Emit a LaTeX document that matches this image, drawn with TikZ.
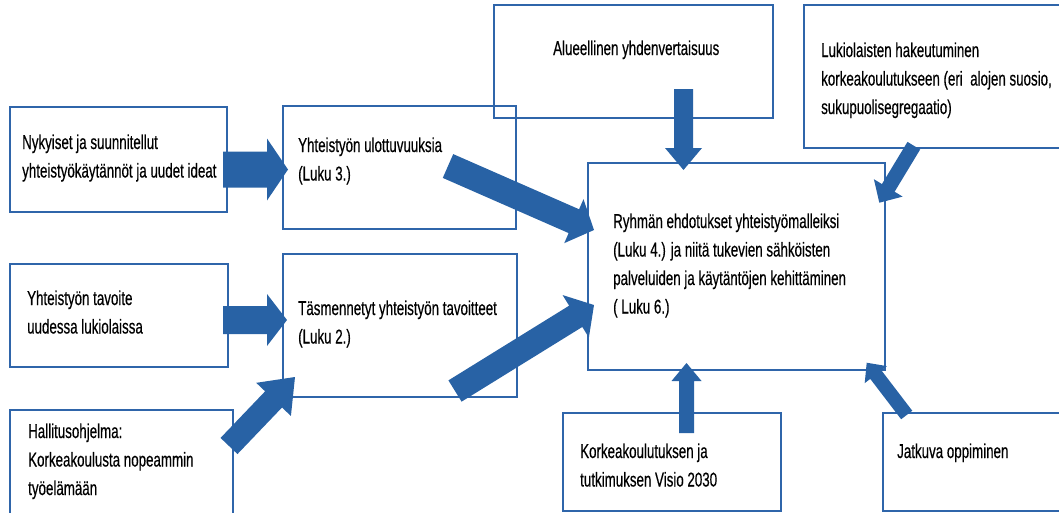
\documentclass[tikz,border=0pt]{standalone}
\usepackage{fontspec}
\setmainfont{Liberation Sans}[FakeStretch=0.667,FakeBold=0.4]
\usetikzlibrary{calc,fit}
\definecolor{boxblue}{HTML}{2F65AA}
\definecolor{arrowblue}{HTML}{2862A5}
\newcommand\blockarrow[5]{%
  \coordinate (bah) at ($(#2)!#5!(#1)$);
  \fill[arrowblue] ($(#1)!#3!90:(#2)$) -- ($(bah)!#3!90:(#2)$) -- ($(bah)!#4!90:(#2)$) -- (#2)
    -- ($(bah)!#4!-90:(#2)$) -- ($(bah)!#3!-90:(#2)$) -- ($(#1)!#3!-90:(#2)$) -- cycle;}
\newcommand\tl[1]{\begin{tabular}[t]{@{}l@{}}#1\end{tabular}}
\begin{document}
\begin{tikzpicture}[x=1pt,y=-1pt,
  box/.style={draw=boxblue,line width=1.4pt,inner sep=0pt,fit=#1},
  txt/.style={anchor=base west,inner sep=0pt,font=\fontsize{20}{28.5}\selectfont}]
\useasboundingbox (0,0) rectangle (1059,512);
\clip (0,0) rectangle (1059,512);
% boxes
\coordinate (b1a) at (10,107);  \coordinate (b1b) at (227,212);
\coordinate (b2a) at (283,106); \coordinate (b2b) at (516,229);
\coordinate (b3a) at (494,5);   \coordinate (b3b) at (773,118);
\coordinate (b4a) at (804,5);   \coordinate (b4b) at (1064,148);
\coordinate (b5a) at (588,163); \coordinate (b5b) at (885,370);
\coordinate (b6a) at (10,264);  \coordinate (b6b) at (228,367);
\coordinate (b7a) at (283,254); \coordinate (b7b) at (517,397);
\coordinate (b8a) at (10,410);  \coordinate (b8b) at (233,518);
\coordinate (b9a) at (563,413); \coordinate (b9b) at (781,511);
\coordinate (b10a) at (883,413); \coordinate (b10b) at (1064,511);
\foreach \i in {1,...,10} {\node[box={(b\i a)(b\i b)}] (box\i) {};}
% texts
\node[txt] (t1) at (22,149) {\tl{Nykyiset ja suunnitellut\\yhteistyökäytännöt ja uudet ideat}};
\node[txt] (t2) at (298,152) {\tl{Yhteistyön ulottuvuuksia\\(Luku 3.)}};
\node[txt] (t3) at (553,55) {Alueellinen yhdenvertaisuus};
\node[txt] (t4) at (821,57) {\tl{Lukiolaisten hakeutuminen\\korkeakoulutukseen (eri~ alojen suosio,\\sukupuolisegregaatio)}};
\node[txt] (t5) at (613,228) {\tl{Ryhmän ehdotukset yhteistyömalleiksi\\(Luku 4.) ja niitä tukevien sähköisten\\palveluiden ja käytäntöjen kehittäminen\\( Luku 6.)}};
\node[txt] (t6) at (27,305) {\tl{Yhteistyön tavoite\\uudessa lukiolaissa}};
\node[txt] (t7) at (298,315) {\tl{Täsmennetyt yhteistyön tavoitteet\\(Luku 2.)}};
\node[txt] (t8) at (28,438) {\tl{Hallitusohjelma:\\Korkeakoulusta nopeammin\\työelämään}};
\node[txt] (t9) at (580,458) {\tl{Korkeakoulutuksen ja\\tutkimuksen Visio 2030}};
\node[txt] (t10) at (897,458) {Jatkuva oppiminen};
% arrows
\coordinate (a1s) at (223,169.5); \coordinate (a1e) at (288,169.5);
\coordinate (a2s) at (223,320);   \coordinate (a2e) at (287,320);
\coordinate (a3s) at (448,166);   \coordinate (a3e) at (594,230);
\coordinate (a4s) at (455,391);   \coordinate (a4e) at (594,305);
\coordinate (a5s) at (229,446);   \coordinate (a5e) at (295,377);
\coordinate (a6s) at (683.5,89);  \coordinate (a6e) at (683.5,170);
\coordinate (a7s) at (913.8,145.7); \coordinate (a7e) at (879.3,202.7);
\coordinate (a8s) at (686.5,433); \coordinate (a8e) at (686.5,363);
\coordinate (a9s) at (906.7,415); \coordinate (a9e) at (866.7,362.7);
\blockarrow{a1s}{a1e}{18pt}{31pt}{21pt}
\blockarrow{a2s}{a2e}{14pt}{26pt}{20pt}
\blockarrow{a3s}{a3e}{13pt}{24pt}{22pt}
\blockarrow{a4s}{a4e}{12.5pt}{25pt}{21.5pt}
\blockarrow{a5s}{a5e}{11.7pt}{24pt}{31pt}
\blockarrow{a6s}{a6e}{9.5pt}{18.5pt}{22pt}
\blockarrow{a7s}{a7e}{7.4pt}{16.8pt}{17.3pt}
\blockarrow{a8s}{a8e}{7.5pt}{15pt}{18pt}
\blockarrow{a9s}{a9e}{7pt}{14pt}{15pt}
\end{tikzpicture}
\end{document}
